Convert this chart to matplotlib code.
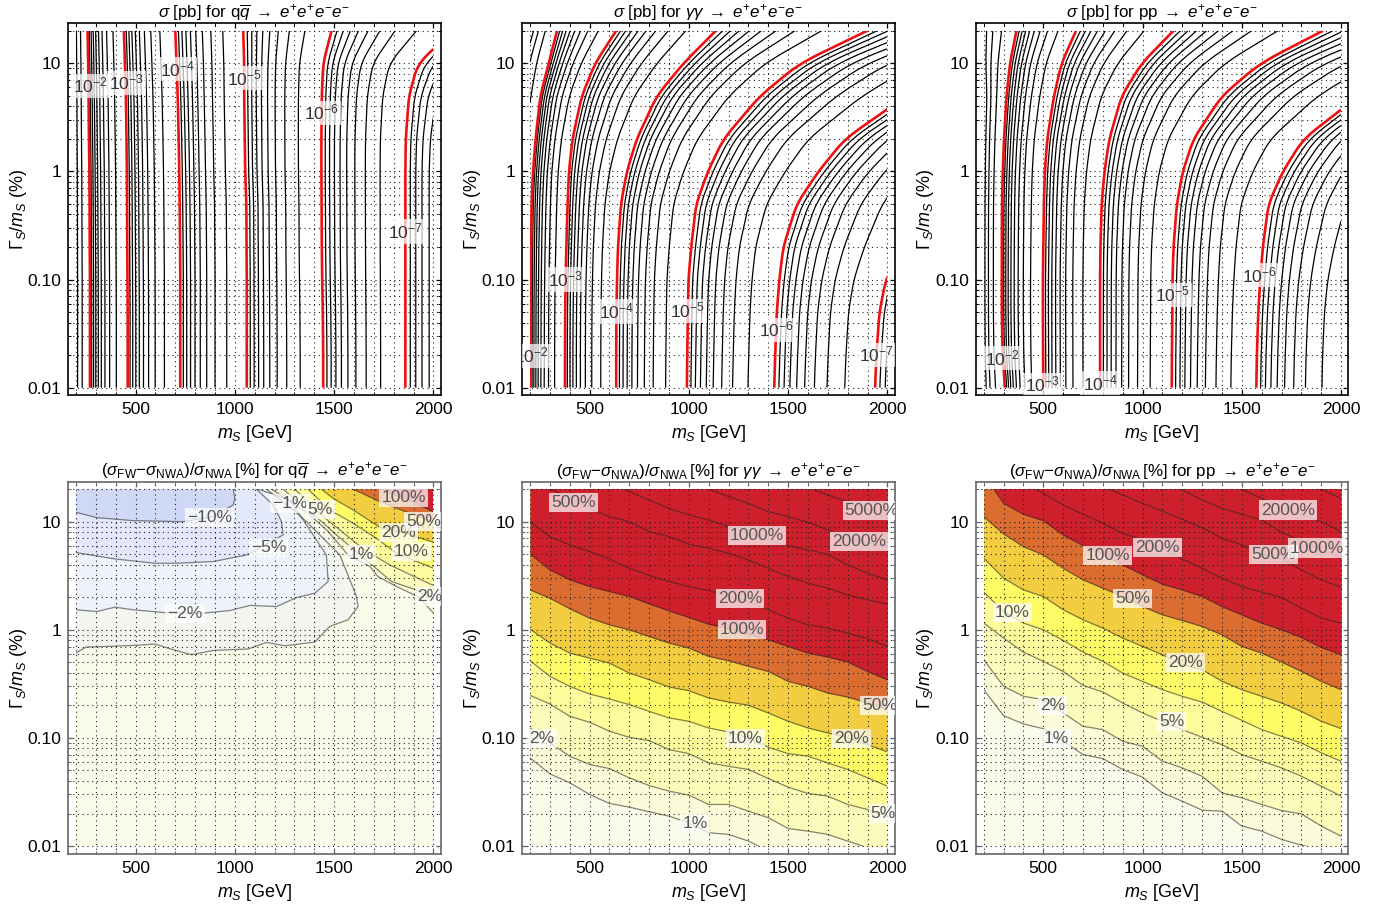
import numpy as np
import matplotlib
matplotlib.use('Agg')
import matplotlib.pyplot as plt
from matplotlib.patches import Rectangle

plt.rcParams['font.family'] = ['Liberation Sans', 'DejaVu Sans']
plt.rcParams['mathtext.fontset'] = 'custom'
plt.rcParams['mathtext.rm'] = 'Liberation Sans'
plt.rcParams['mathtext.it'] = 'Liberation Sans:italic'
plt.rcParams['mathtext.bf'] = 'Liberation Sans:bold'

#rows of the width scan, Gamma/m in %
gamma_rows = [0.01, 0.02, 0.05, 0.1, 0.2, 0.5, 1, 2, 5, 10, 20]

#mass (GeV) where sigma crosses each power of ten, one list per decade, same rows
qq_dec = [-1, -2, -3, -4, -5, -6, -7, -8]
qq_m1 = [140, 140, 140, 140, 140, 140, 140, 140, 140, 140, 140]
qq_m2 = [270, 270, 270, 270, 269, 268, 267, 265, 263, 261, 258]
qq_m3 = [460, 460, 460, 459, 458, 457, 456, 454, 451, 446, 441]
qq_m4 = [725, 725, 725, 725, 724, 722, 720, 717, 712, 706, 700]
qq_m5 = [1060, 1060, 1060, 1060, 1059, 1058, 1052, 1050, 1047, 1047, 1042]
qq_m6 = [1445, 1445, 1443, 1440, 1438, 1437, 1436, 1436, 1438, 1445, 1487]
qq_m7 = [1859, 1859, 1859, 1859, 1859, 1859, 1859, 1861, 1877, 1923, 2100]
qq_m8 = [2400, 2400, 2400, 2400, 2400, 2400, 2400, 2420, 2500, 2700, 3000]

gg_dec = [-1, -2, -3, -4, -5, -6, -7, -8]
gg_m1 = [50, 50, 50, 50, 50, 50, 50, 50, 95, 90, 140]
gg_m2 = [202, 203, 203, 204, 205, 208, 215, 228, 252, 294, 336]
gg_m3 = [376, 376, 377, 379, 383, 389, 396, 414, 461, 528, 634]
gg_m4 = [634, 634, 635, 638, 643, 658, 688, 738, 839, 973, 1136]
gg_m5 = [990, 992, 995, 998, 1012, 1037, 1096, 1175, 1359, 1560, 1899]
gg_m6 = [1430, 1435, 1443, 1456, 1476, 1544, 1653, 1787, 2096, 2406, 3000]
gg_m7 = [1938, 1945, 1960, 1993, 2060, 2160, 2290, 2500, 2950, 3400, 4000]
gg_m8 = [2460, 2470, 2490, 2520, 2590, 2700, 2850, 3100, 3600, 4100, 4700]

pp_dec = [-1, -2, -3, -4, -5, -6, -7]
pp_m1 = [150, 150, 150, 150, 150, 150, 150, 150, 150, 130, 115]
pp_m2 = [307, 295, 291, 291, 291, 292, 296, 302, 315, 332, 365]
pp_m3 = [500, 499, 498, 498, 500, 503, 508, 520, 554, 592, 665]
pp_m4 = [786, 786, 786, 786, 788, 794, 808, 833, 895, 996, 1156]
pp_m5 = [1147, 1148, 1150, 1151, 1156, 1173, 1203, 1257, 1400, 1593, 1909]
pp_m6 = [1573, 1576, 1583, 1593, 1606, 1635, 1707, 1811, 2090, 2400, 3000]
pp_m7 = [2046, 2050, 2060, 2080, 2120, 2190, 2290, 2450, 2800, 3200, 3900]

#mass points of the ratio scan
m_knots = np.arange(200, 2001, 100)

#log10(Gamma/m) of each ratio contour, ending at m = 2000
gg_1 = [-1.185, -1.332, -1.415, -1.523, -1.606, -1.64, -1.683, -1.723, -1.785, -1.877, -1.892, -1.954, -2.046, -2.09, -2.12, -2.17, -2.2, -2.23, -2.26]
gg_2 = [-0.908, -1.046, -1.169, -1.246, -1.283, -1.369, -1.44, -1.492, -1.529, -1.615, -1.615, -1.677, -1.738, -1.837, -1.862, -1.892, -1.954, -2.015, -2.077]
gg_5 = [-0.606, -0.686, -0.8, -0.855, -0.938, -0.994, -1.025, -1.108, -1.145, -1.231, -1.262, -1.292, -1.375, -1.455, -1.514, -1.538, -1.615, -1.662, -1.723]
gg_10 = [-0.286, -0.431, -0.523, -0.594, -0.64, -0.692, -0.754, -0.815, -0.846, -0.908, -0.945, -1.0, -1.086, -1.145, -1.169, -1.231, -1.292, -1.369, -1.446]
gg_20 = [0.006, -0.123, -0.215, -0.262, -0.308, -0.4, -0.462, -0.529, -0.563, -0.631, -0.668, -0.698, -0.769, -0.846, -0.908, -0.954, -1.0, -1.062, -1.129]
gg_50 = [0.369, 0.292, 0.194, 0.108, 0.046, 0, -0.062, -0.123, -0.169, -0.246, -0.286, -0.338, -0.385, -0.477, -0.523, -0.585, -0.622, -0.677, -0.738]
gg_100 = [0.702, 0.554, 0.462, 0.4, 0.354, 0.308, 0.24, 0.175, 0.114, 0.052, 0.009, -0.046, -0.092, -0.154, -0.215, -0.252, -0.298, -0.385, -0.462]
gg_200 = [1.0, 0.862, 0.785, 0.723, 0.655, 0.569, 0.502, 0.446, 0.4, 0.363, 0.308, 0.262, 0.185, 0.108, 0.046, 0.015, -0.031, -0.083, -0.154]
gg_500 = [1.431, 1.308, 1.215, 1.123, 1.046, 1.0, 0.908, 0.862, 0.791, 0.754, 0.708, 0.646, 0.569, 0.492, 0.431, 0.385, 0.323, 0.277, 0.237]
gg_1000 = [1.354, 1.277, 1.2, 1.123, 1.062, 1.015, 0.954, 0.892, 0.831, 0.778, 0.738, 0.698, 0.6, 0.523, 0.462]
gg_2000 = [1.369, 1.302, 1.231, 1.169, 1.092, 1.046, 0.994, 0.923, 0.846, 0.809, 0.769]
gg_5000 = [1.385, 1.317, 1.246, 1.185, 1.108, 1.031]

pp_1 = [-0.554, -0.794, -0.871, -0.914, -1.031, -1.154, -1.191, -1.292, -1.363, -1.508, -1.585, -1.668, -1.677, -1.815, -1.862, -1.938, -1.991, -2.031, -2.077]
pp_2 = [-0.277, -0.523, -0.615, -0.646, -0.769, -0.892, -0.923, -1.031, -1.077, -1.215, -1.277, -1.354, -1.508, -1.554, -1.615, -1.671, -1.702, -1.815, -1.908]
pp_5 = [0.062, -0.077, -0.206, -0.292, -0.385, -0.514, -0.575, -0.677, -0.769, -0.846, -0.923, -0.994, -1.062, -1.154, -1.215, -1.277, -1.354, -1.446, -1.538]
pp_10 = [0.348, 0.169, 0.062, 0, -0.098, -0.206, -0.292, -0.4, -0.477, -0.554, -0.615, -0.668, -0.754, -0.837, -0.923, -0.985, -1.046, -1.138, -1.215]
pp_20 = [0.662, 0.477, 0.369, 0.308, 0.185, 0.092, 0.015, -0.077, -0.154, -0.231, -0.323, -0.369, -0.477, -0.554, -0.615, -0.677, -0.754, -0.846, -0.914]
pp_50 = [1.046, 0.886, 0.769, 0.692, 0.569, 0.462, 0.385, 0.308, 0.215, 0.138, 0.086, 0.031, -0.046, -0.154, -0.215, -0.298, -0.385, -0.477, -0.554]
pp_100 = [1.431, 1.169, 1.068, 1.009, 0.877, 0.778, 0.692, 0.6, 0.508, 0.422, 0.369, 0.308, 0.215, 0.138, 0.062, 0, -0.071, -0.163, -0.231]
pp_200 = [1.554, 1.462, 1.369, 1.262, 1.154, 1.068, 0.985, 0.892, 0.831, 0.754, 0.655, 0.569, 0.477, 0.4, 0.348, 0.298, 0.2, 0.108, 0.062]
pp_500 = [1.569, 1.486, 1.406, 1.323, 1.246, 1.169, 1.098, 1.022, 0.945, 0.846, 0.785, 0.698, 0.655, 0.554, 0.462, 0.394]
pp_1000 = [1.569, 1.508, 1.446, 1.369, 1.292, 1.2, 1.123, 1.068, 1.015, 0.902, 0.822, 0.738, 0.662]
pp_2000 = [1.446, 1.369, 1.298, 1.215, 1.138, 1.062, 1.0, 0.908]
pp_5000 = [1.375, 1.298, 1.215]

#qq ratio contours are not functions of m, so each has its own mass list
qn1_m = [200, 250, 354, 488, 597, 690, 782, 891, 1067, 1159, 1252, 1403, 1478, 1570, 1621, 1613, 1529, 1361, 1294, 1159]
qn1_g = [-0.215, -0.16, -0.154, -0.145, -0.132, -0.185, -0.231, -0.191, -0.178, -0.117, -0.148, -0.114, 0.031, 0.092, 0.215, 0.308, 0.692, 1.0, 1.108, 1.30]
qn2_m = [200, 304, 396, 488, 673, 841, 975, 1075, 1210, 1310, 1403, 1470, 1461, 1378, 1277, 1117]
qn2_g = [0.185, 0.169, 0.209, 0.185, 0.154, 0.154, 0.178, 0.225, 0.215, 0.298, 0.338, 0.446, 0.692, 0.923, 1.20, 1.30]
qn5_m = [200, 396, 597, 706, 891, 1059, 1243, 1235, 1193, 1109]
qn5_g = [0.714, 0.655, 0.615, 0.615, 0.631, 0.692, 0.877, 1.0, 1.154, 1.30]
qn10_m = [200, 304, 488, 740, 891, 992, 1000, 992]
qn10_g = [1.086, 1.037, 1.009, 1.0, 1.046, 1.154, 1.215, 1.30]
qp1_m = [1185, 1369, 1470, 1570, 1680, 1721, 1814, 1931, 2000]
qp1_g = [1.30, 1.077, 0.908, 0.692, 0.585, 0.492, 0.4, 0.298, 0.154]
qp2_m = [1243, 1428, 1512, 1671, 1789, 1914, 2000]
qp2_g = [1.30, 1.015, 0.877, 0.631, 0.446, 0.369, 0.277]
qp5_m = [1302, 1445, 1529, 1654, 1780, 2000]
qp5_g = [1.30, 1.046, 0.923, 0.738, 0.6, 0.409]
qp10_m = [1369, 1478, 1596, 1713, 1814, 2000]
qp10_g = [1.30, 1.108, 0.985, 0.846, 0.708, 0.569]
qp20_m = [1436, 1495, 1596, 1738, 1847, 2000]
qp20_g = [1.30, 1.215, 1.108, 0.938, 0.902, 0.809]
qp50_m = [1596, 1730, 1881, 2000]
qp50_g = [1.30, 1.185, 1.077, 1.0]
qp100_m = [1738, 1873, 2000]
qp100_g = [1.30, 1.20, 1.092]

#contour labels: text, mass, width
qq_labels = [('$10^{-2}$', 270, 6.2), ('$10^{-3}$', 455, 6.6), ('$10^{-4}$', 711, 8.8),
             ('$10^{-5}$', 1050, 7.3), ('$10^{-6}$', 1436, 3.5), ('$10^{-7}$', 1861, 0.278)]
gg_labels = [('$10^{-2}$', 206, 0.0197), ('$10^{-3}$', 378, 0.1), ('$10^{-4}$', 634, 0.0506),
             ('$10^{-5}$', 995, 0.0516), ('$10^{-6}$', 1440, 0.0343), ('$10^{-7}$', 1946, 0.0201)]
pp_labels = [('$10^{-2}$', 293, 0.0188), ('$10^{-3}$', 497, 0.0106), ('$10^{-4}$', 786, 0.011),
             ('$10^{-5}$', 1151, 0.0721), ('$10^{-6}$', 1590, 0.11)]
qr_labels = [('\u221210%', 874, 11), ('\u22125%', 1173, 5.8), ('\u22122%', 748, 1.41), ('\u22121%', 1277, 14.8),
             ('5%', 1431, 13), ('1%', 1638, 5.0), ('20%', 1825, 7.9), ('10%', 1889, 5.3),
             ('2%', 1982, 2.03), ('50%', 1951, 10), ('100%', 1851, 16.8)]
gr_labels = [('500%', 419, 15), ('1000%', 1342, 7.4), ('2000%', 1857, 6.6), ('5000%', 1921, 12.6),
             ('200%', 1258, 1.96), ('100%', 1267, 1), ('50%', 1960, 0.2), ('20%', 1820, 0.0986),
             ('10%', 1284, 0.0986), ('2%', 260, 0.0986), ('5%', 1980, 0.02), ('1%', 1032, 0.0162)]
pr_labels = [('2000%', 1733, 12.8), ('200%', 1075, 5.8), ('100%', 823, 4.9), ('500%', 1660, 5),
             ('1000%', 1879, 5.7), ('50%', 951, 1.96), ('10%', 345, 1.45), ('20%', 1218, 0.5),
             ('2%', 545, 0.2), ('5%', 1147, 0.1426), ('1%', 567, 0.0986)]

band_colors = ['#fbfbd9', '#fcfcba', '#fdfb9c', '#fefb66', '#f1cd3f', '#db6d31', '#ce202c']
base_color = '#fbfbea'
neg_colors = ['#f3f5f0', '#eef2fb', '#e3e9fb', '#cfd9f7']

proc = {'qq': r'q$\overline{q}$', 'gg': r'$\gamma\gamma$', 'pp': 'pp'}
final = r'$\;\rightarrow\; e^{+}e^{+}e^{-}e^{-}$'


def setup(ax, px, py, edge):
    #panel position is given in pixels of the 1399x909 picture
    ax.set_position([px/1399, 1-(py+372)/909, 372.4/1399, 372/909])
    ax.set_yscale('log')
    ax.set_xlim(161, 2037)
    ax.set_ylim(0.0085, 23.4)
    ax.set_xticks([500, 1000, 1500, 2000])
    ax.set_xticks([v for v in range(200, 2001, 100) if v % 500], minor=True)
    ax.set_yticks([0.01, 0.1, 1, 10])
    ax.set_yticklabels(['0.01', '0.10', '1', '10'])
    minor = [j*d for d in (0.01, 0.1, 1) for j in range(2, 10)] + [20]
    ax.set_yticks(minor, minor=True)
    ax.set_yticklabels([], minor=True)
    ax.tick_params(which='major', direction='in', length=3.5, width=0.9, top=True, right=True,
                   labelsize=12.5, color=edge, pad=5)
    ax.tick_params(which='minor', direction='in', length=2, width=0.7, top=True, right=True, color=edge)
    ax.grid(which='both', color='#222222', linestyle=(0, (1, 3.25)), linewidth=0.8)
    ax.set_axisbelow('line')
    for s in ax.spines.values():
        s.set_color(edge)
        s.set_linewidth(1.2)
    ax.set_xlabel(r'$m_S$ [GeV]', fontsize=13, va='center')
    ax.set_ylabel(r'$\Gamma_S/m_S$ (%)', fontsize=13, va='center')
    ax.xaxis.set_label_coords(0.5, -0.104)
    ax.yaxis.set_label_coords(-0.135, 0.5)
    #region really scanned, everything drawn is cut to it
    rect = Rectangle((200, 0.01), 1800, 19.99, transform=ax.transData, fc='none', ec='none')
    ax.add_patch(rect)
    return rect


def put_labels(ax, labels, color):
    for txt, m, g in labels:
        ax.text(m, g, txt, ha='center', va='center', fontsize=12.5, color=color, clip_on=True, zorder=6,
                bbox=dict(fc='white', ec='none', alpha=0.72, pad=1.5))


def sigma_panel(ax, curves, decades, labels, name):
    rect = setup(ax, ax._px, ax._py, 'k')
    ax.set_title(r'$\sigma$ [pb] for ' + proc[name] + final, fontsize=12.2, pad=4)
    log_rows = np.log10(gamma_rows)
    yy = np.linspace(-2, np.log10(20), 500)
    xx = np.linspace(200, 2000, 1201)
    #round off the kinks at the scan rows, the window is a fifth of a decade
    win = np.ones(31)/31
    cross = []
    for c in curves:
        raw = np.interp(yy, log_rows, c)
        pad = np.r_[np.full(15, raw[0]), raw, 2*raw[-1] - raw[-2:-17:-1]]
        cross.append(np.convolve(pad, win, mode='valid'))
    field = np.zeros((len(yy), len(xx)))
    for i in range(len(yy)):
        field[i] = np.interp(xx, [c[i] for c in cross], decades)
    fine = sorted(k + np.log10(j) for k in range(min(decades), -1) for j in range(2, 10))
    cs = ax.contour(xx, 10**yy, field, levels=fine, colors='k', linewidths=0.9, linestyles='solid')
    cs.set_clip_path(rect)
    reds = sorted(d for d in decades if -8 < d < -1)
    cr = ax.contour(xx, 10**yy, field, levels=reds, colors='#ee1111', linewidths=1.9, linestyles='solid')
    cr.set_clip_path(rect)
    put_labels(ax, labels, '#333333')


def ratio_panel(ax, bands, lines, labels, name):
    rect = setup(ax, ax._px, ax._py, '#666666')
    ax.set_title(r'$(\sigma_{\mathrm{FW}}{-}\sigma_{\mathrm{NWA}})/\sigma_{\mathrm{NWA}}\,$[%] for '
                 + proc[name] + final, fontsize=12.2, pad=4)
    base = ax.fill_between([200, 2000], 0.01, 20, color=base_color, lw=0, zorder=1)
    base.set_clip_path(rect)
    for c, col in zip(bands, band_colors):
        f = ax.fill_between(m_knots, 10**np.array(c), 40, color=col, lw=0, zorder=1)
        f.set_clip_path(rect)
    for c in lines:
        ln, = ax.plot(m_knots[-len(c):], 10**np.array(c), color='#222222', alpha=0.55, lw=0.9)
        ln.set_clip_path(rect)
    put_labels(ax, labels, '#555555')


fig = plt.figure(figsize=(13.99, 9.09), dpi=100)
axs = fig.subplots(2, 3)
xpix = [68.3, 522.3, 976]
ypix = [23.3, 481.7]
for r in range(2):
    for c in range(3):
        axs[r, c]._px = xpix[c]
        axs[r, c]._py = ypix[r]

sigma_panel(axs[0, 0], [qq_m1, qq_m2, qq_m3, qq_m4, qq_m5, qq_m6, qq_m7, qq_m8], qq_dec, qq_labels, 'qq')
sigma_panel(axs[0, 1], [gg_m1, gg_m2, gg_m3, gg_m4, gg_m5, gg_m6, gg_m7, gg_m8], gg_dec, gg_labels, 'gg')
sigma_panel(axs[0, 2], [pp_m1, pp_m2, pp_m3, pp_m4, pp_m5, pp_m6, pp_m7], pp_dec, pp_labels, 'pp')

#qq ratio panel, regions closed on the frame corners
ax = axs[1, 0]
rect = setup(ax, ax._px, ax._py, '#666666')
ax.set_title(r'$(\sigma_{\mathrm{FW}}{-}\sigma_{\mathrm{NWA}})/\sigma_{\mathrm{NWA}}\,$[%] for '
             + proc['qq'] + final, fontsize=12.2, pad=4)
b = ax.fill_between([200, 2000], 0.01, 20, color=base_color, lw=0, zorder=1)
b.set_clip_path(rect)
neg = [(qn1_m, qn1_g), (qn2_m, qn2_g), (qn5_m, qn5_g), (qn10_m, qn10_g)]
pos = [(qp1_m, qp1_g), (qp2_m, qp2_g), (qp5_m, qp5_g), (qp10_m, qp10_g), (qp20_m, qp20_g), (qp50_m, qp50_g), (qp100_m, qp100_g)]
for (m, g), col in zip(neg, neg_colors):
    p, = ax.fill(m + [200], list(10**np.array(g)) + [20], color=col, lw=0, zorder=1)
    p.set_clip_path(rect)
for (m, g), col in zip(pos, band_colors):
    p, = ax.fill(m + [2000], list(10**np.array(g)) + [20], color=col, lw=0, zorder=1)
    p.set_clip_path(rect)
for m, g in neg + pos:
    ln, = ax.plot(m, 10**np.array(g), color='#222222', alpha=0.55, lw=0.9)
    ln.set_clip_path(rect)
put_labels(ax, qr_labels, '#555555')

ratio_panel(axs[1, 1], [gg_1, gg_2, gg_5, gg_10, gg_20, gg_50, gg_100],
            [gg_1, gg_2, gg_5, gg_10, gg_20, gg_50, gg_100, gg_200, gg_500, gg_1000, gg_2000, gg_5000], gr_labels, 'gg')
ratio_panel(axs[1, 2], [pp_1, pp_2, pp_5, pp_10, pp_20, pp_50, pp_100],
            [pp_1, pp_2, pp_5, pp_10, pp_20, pp_50, pp_100, pp_200, pp_500, pp_1000, pp_2000, pp_5000], pr_labels, 'pp')

fig.savefig('out.png', dpi=100)
